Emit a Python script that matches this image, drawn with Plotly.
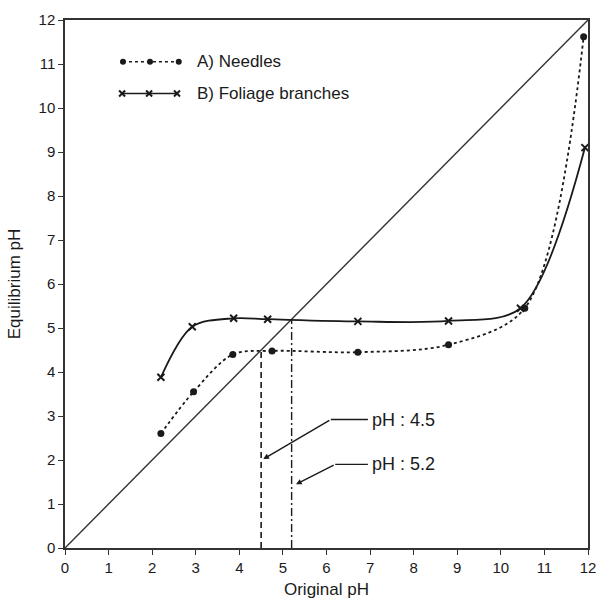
import plotly.graph_objects as go

# Data
needles_x = [2.2, 2.95, 3.85, 4.75, 6.72, 8.8, 10.55, 11.9]
needles_y = [2.6, 3.55, 4.4, 4.48, 4.45, 4.62, 5.45, 11.62]
foliage_x = [2.2, 2.92, 3.87, 4.65, 6.72, 8.8, 10.45, 11.93]
foliage_y = [3.88, 5.03, 5.22, 5.2, 5.15, 5.16, 5.45, 9.1]
ref_x = [0, 12]
ref_y = [0, 12]
eq_needles = 4.5
eq_foliage = 5.2
ticks = list(range(0, 13))
legend_labels = ["A) Needles", "B) Foliage branches"]
legend_a_x = [1.33, 1.95, 2.61]
legend_a_y = [11.05, 11.05, 11.05]
legend_b_x = [1.31, 1.93, 2.57]
legend_b_y = [10.33, 10.33, 10.33]
legend_text_x = 2.98
label_texts = ["pH : 4.5", "pH : 5.2"]
label_pos = [(6.95, 2.92), (6.95, 1.9)]
label_elbow = [(6.1, 2.92), (6.2, 1.9)]
label_tip = [(4.55, 2.02), (5.3, 1.45)]

INK = "#1a1a1a"
fig = go.Figure()

fig.add_trace(go.Scatter(x=ref_x, y=ref_y, mode="lines",
                         line=dict(color="#333333", width=1.4), showlegend=False))
fig.add_trace(go.Scatter(x=[eq_needles, eq_needles], y=[0, eq_needles], mode="lines",
                         line=dict(color=INK, width=1.6, dash="6px,4px"), showlegend=False))
fig.add_trace(go.Scatter(x=[eq_foliage, eq_foliage], y=[0, eq_foliage], mode="lines",
                         line=dict(color=INK, width=1.4, dash="8px,3px,2px,3px"), showlegend=False))

fig.add_trace(go.Scatter(x=needles_x, y=needles_y, mode="lines+markers", name=legend_labels[0],
                         line=dict(color=INK, width=1.8, dash="dot", shape="spline", smoothing=0.9),
                         marker=dict(symbol="circle", size=7, color=INK), showlegend=False))
fig.add_trace(go.Scatter(x=foliage_x, y=foliage_y, mode="lines+markers", name=legend_labels[1],
                         line=dict(color=INK, width=1.8, shape="spline", smoothing=0.9),
                         marker=dict(symbol="x-thin", size=7, line=dict(color=INK, width=2)),
                         showlegend=False))

# hand-drawn style legend
fig.add_trace(go.Scatter(x=legend_a_x, y=legend_a_y, mode="lines+markers",
                         line=dict(color=INK, width=1.5, dash="dot"),
                         marker=dict(symbol="circle", size=6, color=INK), showlegend=False))
fig.add_trace(go.Scatter(x=legend_b_x, y=legend_b_y, mode="lines+markers",
                         line=dict(color=INK, width=1.5),
                         marker=dict(symbol="x-thin", size=6, line=dict(color=INK, width=2)),
                         showlegend=False))
fig.add_annotation(x=legend_text_x, y=legend_a_y[0], text=legend_labels[0], showarrow=False,
                   xanchor="left", font=dict(size=17, color=INK))
fig.add_annotation(x=legend_text_x, y=legend_b_y[0], text=legend_labels[1], showarrow=False,
                   xanchor="left", font=dict(size=17, color=INK))

# callout labels
for txt, (tx, ty), (ex, ey), (px, py) in zip(label_texts, label_pos, label_elbow, label_tip):
    fig.add_shape(type="line", x0=tx, y0=ty, x1=ex, y1=ey, line=dict(color=INK, width=1.4))
    fig.add_annotation(x=px, y=py, ax=ex, ay=ey, axref="x", ayref="y", text="",
                       showarrow=True, arrowhead=2, arrowsize=0.8, arrowwidth=1.4,
                       arrowcolor=INK)
    fig.add_annotation(x=tx + 0.05, y=ty, text=txt, showarrow=False, xanchor="left",
                       font=dict(size=18, color=INK))

axis_common = dict(showgrid=False, zeroline=False, showline=True, linecolor="#333333",
                   linewidth=1.5, mirror=True, ticks="outside", ticklen=5, tickwidth=1.2,
                   tickcolor="#333333", tickvals=ticks, tickfont=dict(size=15, color=INK),
                   automargin=False, ticklabeloverflow="allow")
fig.update_xaxes(range=[0, 12], title=dict(text="Original pH", font=dict(size=17, color=INK),
                 standoff=8), **axis_common)
fig.update_yaxes(range=[0, 12], title=dict(text="Equilibrium pH", font=dict(size=17, color=INK),
                 standoff=14), **axis_common)

fig.update_layout(width=596, height=607, margin=dict(l=65, r=8, t=20, b=59),
                  plot_bgcolor="white", paper_bgcolor="white",
                  font=dict(family="Liberation Sans, Arial, sans-serif", color=INK))
fig.write_html("out.html", config={"displayModeBar": False},
               post_script="document.body.style.margin='0';document.body.style.overflow='hidden';")
